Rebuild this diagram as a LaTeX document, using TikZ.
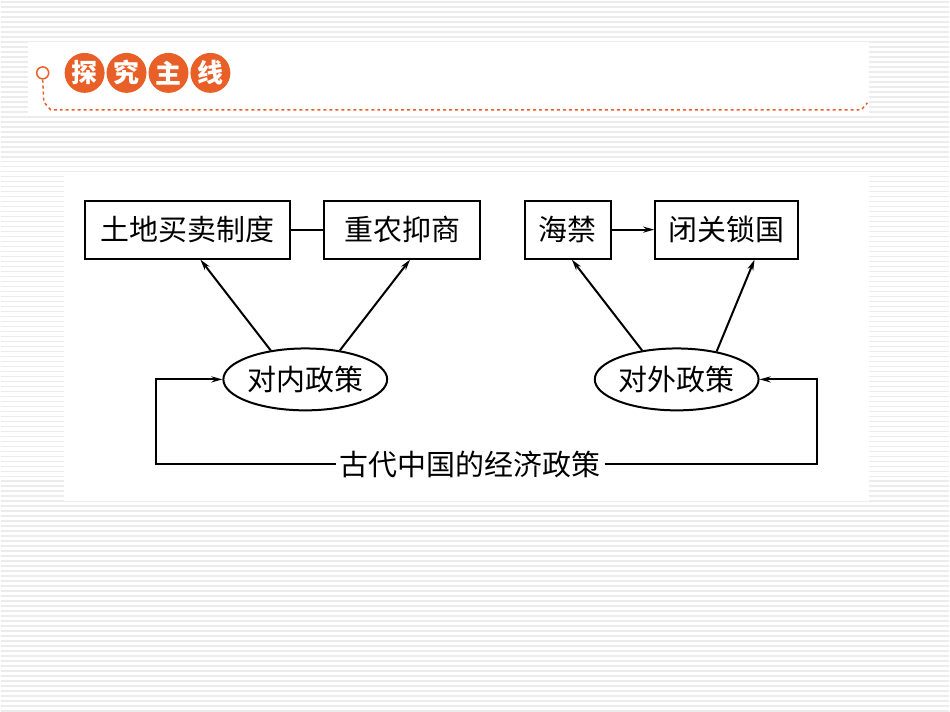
\documentclass[tikz,border=0pt]{standalone}
\usepackage{fontspec}
\newfontfamily\cjk{Noto Sans CJK SC}
\usetikzlibrary{arrows.meta,shapes.geometric}
\definecolor{org}{RGB}{232,96,40}
\begin{document}
\begin{tikzpicture}[x=1pt,y=-1pt,
 box/.style={draw,line width=2pt,minimum height=58pt,inner xsep=4pt,font=\cjk\fontsize{29}{32}\selectfont},
 ell/.style={draw,ellipse,line width=2pt,minimum width=162pt,minimum height=62pt,inner sep=0pt,font=\cjk\fontsize{29}{32}\selectfont},
 arr/.style={line width=2pt,-{Stealth[length=11pt,width=6pt]}},
 tc/.style={circle,fill=org,minimum size=40pt,inner sep=0pt,text=white,font=\cjk\bfseries\fontsize{26}{28}\selectfont}]
\fill[white] (0,0) rectangle (950,713);
\foreach \y in {2,7,...,713} \draw[gray!15,line width=1.5pt] (0,\y) -- (950,\y);
\fill[white] (27,42) rectangle (870,115);
\fill[white] (63,175) rectangle (870,502);
% header
\node[tc] (t1) at (84,73) {探};
\node[tc] (t2) at (126,73) {究};
\node[tc] (t3) at (168,73) {主};
\node[tc] (t4) at (210,73) {线};
\node[circle,draw=org,line width=1.5pt,minimum size=12pt,inner sep=0pt] (c0) at (42,73) {};
\coordinate (h1) at (43,102); \coordinate (h2) at (50,110); \coordinate (h3) at (862,110); \coordinate (h4) at (868,103);
\draw[org,line width=1.5pt,dashed] (c0.south) -- (h1) -- (h2) -- (h3) -- (h4);
% boxes
\node[box,minimum width=206pt] (a) at (187,230) {土地买卖制度};
\node[box,minimum width=156pt] (b) at (402,230) {重农抑商};
\node[box,minimum width=86pt] (c) at (568,230) {海禁};
\node[box,minimum width=143pt] (d) at (727,230) {闭关锁国};
\draw[line width=2pt] (a) -- (b);
\draw[arr] (c) -- (d);
\node[ell] (e1) at (305,380) {对内政策};
\node[ell] (e2) at (677,380) {对外政策};
\draw[arr] (e1.140) -- (a.south -| 200,0);
\draw[arr] (e1.40) -- (b.south -| 410,0);
\draw[arr] (e2.140) -- (c.south -| 572,0);
\draw[arr] (e2.35) -- (d.south -| 755,0);
\node[font=\cjk\fontsize{29}{32}\selectfont,inner sep=4pt] (m) at (470,465) {古代中国的经济政策};
\coordinate (l1) at (155,465); \coordinate (l2) at (155,380);
\coordinate (r1) at (818,465); \coordinate (r2) at (818,380);
\draw[arr] (m.west) -- (l1) -- (l2) -- (e1.west);
\draw[arr] (m.east) -- (r1) -- (r2) -- (e2.east);
\end{tikzpicture}
\end{document}
